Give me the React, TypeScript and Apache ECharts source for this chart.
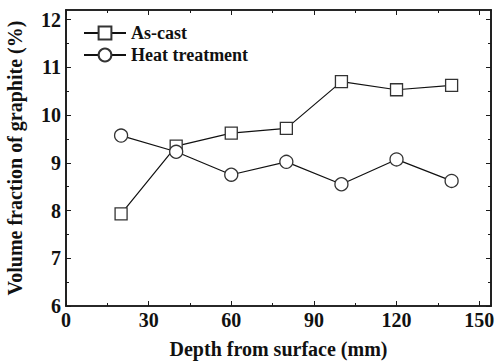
import React, { useEffect, useRef } from "react";
import * as echarts from "echarts";

const depths = [20, 40, 60, 80, 100, 120, 140];
const asCast = [7.93, 9.35, 9.62, 9.72, 10.7, 10.53, 10.62];
const heatTreatment = [9.57, 9.23, 8.75, 9.02, 8.55, 9.07, 8.62];
const xMajor = [0, 30, 60, 90, 120, 150];
const xMinor = [15, 45, 75, 105, 135];
const yMajor = [6, 7, 8, 9, 10, 11, 12];
const yMinor = [6.5, 7.5, 8.5, 9.5, 10.5, 11.5];
const seriesNames = ["As-cast", "Heat treatment"];

const FONT = '"Liberation Serif", "Times New Roman", serif';

export default function App() {
  const ref = useRef<HTMLDivElement>(null);
  useEffect(() => {
    if (!ref.current) return;
    const chart = echarts.init(ref.current, null, { renderer: "svg" });
    const X_MIN = 0, X_MAX = 154.3, Y_MIN = 6, Y_MAX = 12.2;
    const lineStyle = { color: "#1a1a1a", width: 1.6 };
    const mkX = (pos: string, ticks: number[], len: number, opts: any = {}) => ({
      type: "value",
      position: pos,
      min: X_MIN,
      max: X_MAX,
      axisLine: { show: true, onZero: false, lineStyle },
      axisTick: { show: true, inside: true, length: len, customValues: ticks, lineStyle: { color: "#1a1a1a", width: 1 } },
      axisLabel: { show: false },
      splitLine: { show: false },
      ...opts,
    });
    const mkY = (pos: string, ticks: number[], len: number, opts: any = {}) => ({
      type: "value",
      position: pos,
      min: Y_MIN,
      max: Y_MAX,
      axisLine: { show: true, onZero: false, lineStyle },
      axisTick: { show: true, inside: true, length: len, customValues: ticks, lineStyle: { color: "#1a1a1a", width: 1 } },
      axisLabel: { show: false },
      splitLine: { show: false },
      ...opts,
    });
    chart.setOption({
      animation: false,
      backgroundColor: "#ffffff",
      textStyle: { fontFamily: FONT },
      grid: { left: 66, top: 10, right: 4, bottom: 55, containLabel: false, outerBoundsMode: "none" },
      legend: {
        data: seriesNames,
        orient: "vertical",
        left: 78,
        top: 19,
        itemWidth: 42,
        itemHeight: 16,
        itemGap: 4,
        textStyle: { fontFamily: FONT, fontWeight: "bold", fontSize: 18, color: "#111" },
      },
      xAxis: [
        mkX("bottom", xMajor, 5, {
          name: "Depth from surface (mm)",
          nameLocation: "middle",
          nameGap: 33,
          nameTextStyle: { fontFamily: FONT, fontWeight: "bold", fontSize: 20, color: "#111" },
          axisLabel: {
            show: true,
            customValues: xMajor,
            margin: 4,
            fontFamily: FONT,
            fontWeight: "bold",
            fontSize: 20,
            color: "#111",
          },
        }),
        mkX("bottom", xMinor, 3),
        mkX("top", xMajor, 5),
        mkX("top", xMinor, 3),
      ],
      yAxis: [
        mkY("left", yMajor, 5, {
          name: "Volume fraction of graphite (%)",
          nameLocation: "middle",
          nameGap: 41,
          nameTextStyle: { fontFamily: FONT, fontWeight: "bold", fontSize: 20, color: "#111" },
          axisLabel: {
            show: true,
            customValues: yMajor,
            margin: 5,
            fontFamily: FONT,
            fontWeight: "bold",
            fontSize: 20,
            color: "#111",
          },
        }),
        mkY("left", yMinor, 3),
        mkY("right", yMajor, 5),
        mkY("right", yMinor, 3),
      ],
      series: [
        {
          name: seriesNames[0],
          type: "line",
          xAxisIndex: 0,
          yAxisIndex: 0,
          data: depths.map((d, i) => [d, asCast[i]]),
          symbol: "rect",
          symbolSize: 12,
          lineStyle: { color: "#111", width: 1.2 },
          itemStyle: { color: "#ffffff", borderColor: "#333", borderWidth: 1.3 },
        },
        {
          name: seriesNames[1],
          type: "line",
          xAxisIndex: 0,
          yAxisIndex: 0,
          data: depths.map((d, i) => [d, heatTreatment[i]]),
          symbol: "circle",
          symbolSize: 13,
          lineStyle: { color: "#111", width: 1.2 },
          itemStyle: { color: "#ffffff", borderColor: "#333", borderWidth: 1.3 },
        },
      ],
    });
    return () => chart.dispose();
  }, []);
  return (
    <div
      ref={ref}
      style={{ position: "fixed", left: 0, top: 0, width: 495, height: 361 }}
    />
  );
}
